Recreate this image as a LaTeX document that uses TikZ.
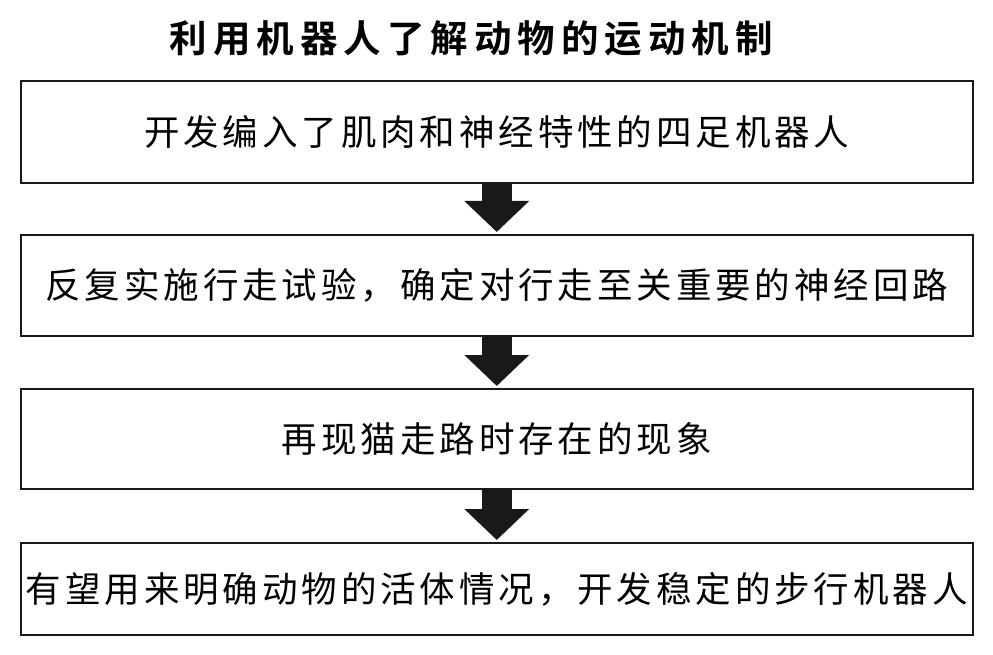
\documentclass[tikz,border=0pt]{standalone}
\usepackage{fontspec}
\newfontfamily\cjk[LetterSpace=11]{Noto Sans CJK SC}
\newfontfamily\cjkbold[LetterSpace=16]{Noto Sans CJK SC Bold}
\usetikzlibrary{arrows.meta}
\begin{document}
\begin{tikzpicture}[x=1pt,y=-1pt,
  stepbox/.style={draw=black!90,line width=2pt,fill=white,inner sep=0pt,minimum width=952.5pt,
    font=\cjk\fontsize{35.5}{40}\selectfont},
  flowarrow/.style={line width=30pt,black!90,shorten >=2pt,
    -{Triangle[width=63pt,length=31pt]}}]
\useasboundingbox (0,0) rectangle (993,655);
\node[font=\cjkbold\fontsize{37.5}{40}\selectfont,inner sep=0pt] (title) at (471,38) {利用机器人了解动物的运动机制};
\node[stepbox,minimum height=102pt] (b1) at (496.75,132) {开发编入了肌肉和神经特性的四足机器人};
\node[stepbox,minimum height=101pt] (b2) at (496.75,285.5) {反复实施行走试验，确定对行走至关重要的神经回路};
\node[stepbox,minimum height=100pt] (b3) at (496.75,439) {再现猫走路时存在的现象};
\node[stepbox,minimum height=92pt] (b4) at (496.75,589) {有望用来明确动物的活体情况，开发稳定的步行机器人};
\draw[flowarrow] (b1.south) -- (b2.north);
\draw[flowarrow] (b2.south) -- (b3.north);
\draw[flowarrow] (b3.south) -- (b4.north);
\end{tikzpicture}
\end{document}
